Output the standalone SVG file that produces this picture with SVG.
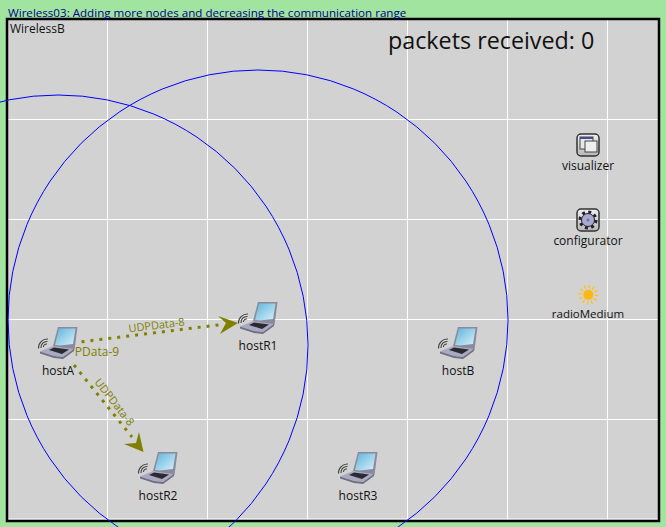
<svg xmlns="http://www.w3.org/2000/svg" width="666" height="527" viewBox="0 0 666 527">
<style>
text{font-family:"Open Sans","Noto Sans","DejaVu Sans",sans-serif;font-size:12px;fill:#111}
.c{text-anchor:middle}
.g{stroke:#fff;stroke-width:1;fill:none}
.r{fill:none;stroke:#00f;stroke-width:1}
.f{fill:none;stroke:#808000;stroke-width:3;stroke-dasharray:3 6}
.a{fill:#808000}
.l{fill:#808000;text-anchor:middle}
</style>
<defs>
<linearGradient id="sc" x1="0" y1="0" x2="1" y2="1"><stop offset="0" stop-color="#5fb3dc"/><stop offset="1" stop-color="#d9f1fa"/></linearGradient>
<linearGradient id="bt" x1="0" y1="0" x2="0" y2="1"><stop offset="0" stop-color="#f0f0f0"/><stop offset="1" stop-color="#b8b8b8"/></linearGradient>
<g id="laptop">
<path d="M-5 1 L0 -18 L19.500 -18 L16.500 5 L8 6 Z" fill="#8a8a9c"/>
<path d="M-3 0 L1 -16.500 L17.500 -16.500 L15 -1 L2 0.500 Z" fill="url(#sc)"/>
<path d="M-18 6.500 L-5 1 L16 4 L5 12 L-4 11 Z" fill="#a9a9c0"/>
<path d="M-18 6.500 L-4 11 L5 12 L16 4 L16 6 L5 14 L-4 13 L-18 8.500 Z" fill="#6f6f85"/>
<path d="M-9 5 L-4 2.500 L11 4.500 L4 9 Z" fill="#2a2a32"/>
<g fill="none" stroke="#444" stroke-width="1.100"><path d="M-14.500 2 A3 3 0 0 1 -11 -1"/><path d="M-17 3 A6 6 0 0 1 -10.500 -3.500"/><path d="M-19.500 3.500 A9 9 0 0 1 -10 -6"/></g>
</g>
</defs>
<rect width="666" height="527" fill="#a0e4a0"/>
<rect x="7" y="19" width="652" height="502" fill="#d2d2d2"/>
<path class="g" d="M107.500 19V521M207.500 19V521M307.500 19V521M407.500 19V521M507.500 19V521M607.500 19V521M7 119.500H660M7 219.500H660M7 319.500H660M7 419.500H660M7 519H660"/>
<rect x="7" y="19" width="652" height="502" fill="none" stroke="#000" stroke-width="2.500"/>
<text x="8" y="17" style="fill:#00008b;font-size:11.600px">Wireless03: Adding more nodes and decreasing the communication range</text>
<text x="10" y="33">WirelessB</text>
<text x="388" y="49" style="font-size:23.300px">packets received: 0</text>
<circle class="r" cx="58" cy="345" r="250"/>
<circle class="r" cx="258" cy="320" r="250"/>
<g id="connectors">
<path class="f" d="M81.500 341.800 L222 324.500"/>
<path class="a" d="M238 323 L218 316 L226 323 L220 334 Z"/>
<path class="f" d="M74 365 L132 437"/>
<path class="a" d="M143.500 452 L139 432 L136 443 L124 444 Z"/>
<text class="l" style="font-size:11px" transform="translate(157 329) rotate(-7)">UDPData-8</text>
<text class="l" x="97" y="356">PData-9</text>
<text class="l" style="font-size:11px" transform="translate(111.500 404.500) rotate(52)">UDPData-8</text>
</g>
<g id="hostA"><use href="#laptop" x="58" y="345"/><text class="c" x="58" y="375">hostA</text></g>
<g id="hostR1"><use href="#laptop" x="258" y="320"/><text class="c" x="258" y="350">hostR1</text></g>
<g id="hostB"><use href="#laptop" x="458" y="345"/><text class="c" x="458" y="375">hostB</text></g>
<g id="hostR2"><use href="#laptop" x="158" y="470"/><text class="c" x="158" y="500">hostR2</text></g>
<g id="hostR3"><use href="#laptop" x="358" y="470"/><text class="c" x="358" y="500">hostR3</text></g>
<g id="visualizer"><rect x="577" y="134" width="22" height="22" rx="4" fill="url(#bt)" stroke="#333" stroke-width="1.500"/><rect x="580" y="137" width="13" height="12" fill="#e8e8e8" stroke="#444"/><rect x="580" y="137" width="13" height="2" fill="#4a4a90"/><rect x="585" y="141" width="12" height="11" fill="#eee" stroke="#444"/><text class="c" x="588" y="170">visualizer</text></g>
<g id="configurator"><rect x="577" y="209" width="22" height="22" rx="4" fill="url(#bt)" stroke="#333" stroke-width="1.500"/><circle cx="588" cy="220" r="8" fill="none" stroke="#222" stroke-width="3" stroke-dasharray="3 3.280"/><circle cx="588" cy="220" r="6.500" fill="#a8a8d8" stroke="#222"/><circle cx="588" cy="220" r="1.500" fill="#777"/><text class="c" x="588" y="245">configurator</text></g>
<g id="radioMedium"><circle cx="588.300" cy="294.700" r="8" fill="none" stroke="#fdc21c" stroke-width="4" stroke-dasharray="1.300 2.890"/><circle cx="588.300" cy="294.700" r="5" fill="#fdb813"/><text class="c" x="588" y="318" style="font-size:11.500px">radioMedium</text></g>
</svg>
